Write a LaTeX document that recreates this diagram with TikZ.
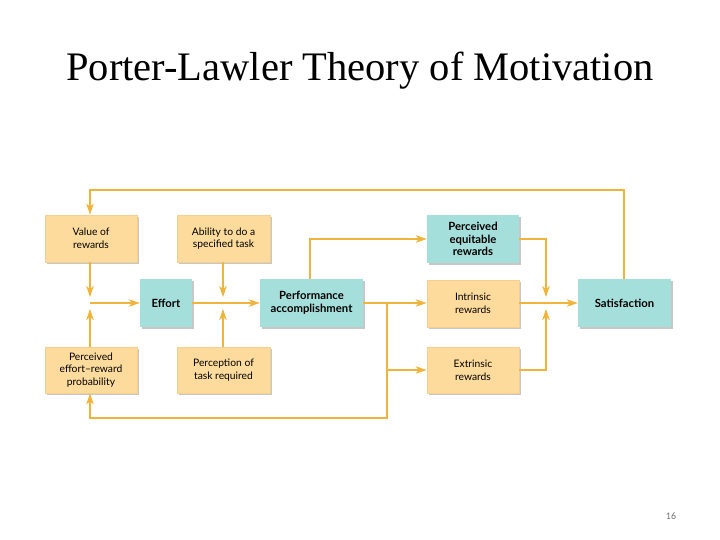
\documentclass[tikz,border=0pt]{standalone}
\usepackage{fontspec}
\setmainfont{Liberation Serif}
\newfontfamily\boxfont{Lato}
\newfontfamily\numfont{Carlito}
\usetikzlibrary{arrows.meta,shadows}
\definecolor{boxorange}{HTML}{FDDB9C}
\definecolor{boxedge}{HTML}{F3CF90}
\definecolor{boxteal}{HTML}{A5DFDB}
\definecolor{lineorange}{HTML}{F0B43C}
\begin{document}
\begin{tikzpicture}[x=1pt,y=-1pt,
  base/.style={rectangle, minimum width=92pt, minimum height=47pt, inner sep=2pt, align=center,
    font=\boxfont\fontsize{10.3}{12.8}\selectfont,
    drop shadow={shadow xshift=1.6pt, shadow yshift=-1.6pt, fill=black, opacity=0.22}},
  obox/.style={base, fill=boxorange, draw=boxedge, line width=0.8pt},
  tbox/.style={base, fill=boxteal, font=\boxfont\bfseries\fontsize{11.3}{12.8}\selectfont},
  conn/.style={draw=lineorange, line width=1.1pt},
  arr/.style={conn, -{Stealth[length=11pt,width=7.5pt,inset=3pt]}},
  jarr/.style={arr, shorten >=6pt}]
\useasboundingbox (0,0) rectangle (720,540);

\node[anchor=base] (title) at (360,81) {\fontsize{40.5}{42}\selectfont Porter-Lawler Theory of Motivation};
\node[anchor=base, text=black!55, font=\numfont\fontsize{10}{11}\selectfont] (pnum) at (671,519) {16};

% boxes
\node[obox] (val) at (91,238.5) {Value of\\rewards};
\node[obox, minimum width=93pt] (abil) at (223.5,238.5) {Ability to do a\\specified task};
\node[tbox, minimum width=52pt, minimum height=48pt] (eff) at (166,303) {Effort};
\node[obox, minimum height=46pt] (prob) at (91,370) {Perceived\\effort–reward\\probability};
\node[obox, minimum width=93pt, minimum height=46pt] (perc) at (223.5,370) {Perception of\\task required};
\node[tbox, minimum width=103pt, minimum height=48pt] (perf) at (311.5,303) {Performance\\accomplishment};
\node[tbox, minimum height=48pt] (equ) at (473,239) {Perceived\\equitable\\rewards};
\node[obox] (intr) at (473,303.5) {Intrinsic\\rewards};
\node[obox, minimum height=46pt] (extr) at (473,370) {Extrinsic\\rewards};
\node[tbox, minimum width=93pt, minimum height=48pt] (sat) at (624.5,303) {Satisfaction};

% junctions and corners
\coordinate (j1) at (90,303);
\coordinate (j2) at (223,303);
\coordinate (j3) at (546,303);
\coordinate (br) at (387,303);
\coordinate (topL) at (90,190);
\coordinate (topR) at (624,190);
\coordinate (botR) at (387,418);
\coordinate (botL) at (90,418);

% top feedback loop
\draw[arr] (sat.north -| topR) -- (topR) -- (topL) -- (val.north -| topL);
% left junction
\draw[jarr] (val.south -| j1) -- (j1);
\draw[jarr] (prob.north -| j1) -- (j1);
\draw[arr] (j1) -- (eff.west);
% middle junction
\draw[conn] (eff.east) -- (j2);
\draw[arr] (j2) -- (perf.west);
\draw[jarr] (abil.south -| j2) -- (j2);
\draw[jarr] (perc.north -| j2) -- (j2);
% performance outputs
\draw[arr] (perf.north -| 310,0) |- (equ.west);
\draw[arr] (perf.east) -- (intr.west |- perf.east);
\draw[arr] (br) |- (extr.west);
\draw[arr] (br) -- (botR) -- (botL) -- (prob.south -| botL);
% rewards to satisfaction
\draw[jarr] (equ.east) -| (j3);
\draw[jarr] (extr.east) -| (j3);
\draw[conn] (intr.east |- j3) -- (j3);
\draw[arr] (j3) -- (sat.west);
\end{tikzpicture}
\end{document}
